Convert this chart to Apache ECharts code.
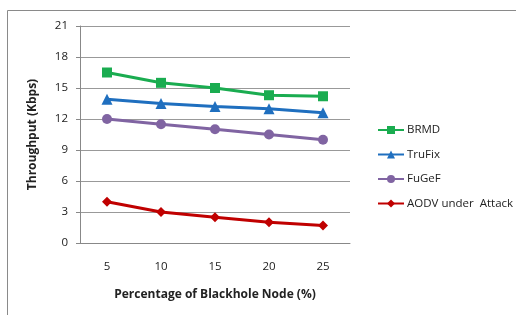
<!DOCTYPE html>
<html><head><meta charset="utf-8">
<script src="https://cdn.jsdelivr.net/npm/echarts@6/dist/echarts.min.js"></script>
<style>html,body{margin:0;padding:0;background:#fff}#c{width:516px;height:315px}</style>
</head><body><div id="c"></div>
<script>
const categories = ['5','10','15','20','25'];
const brmd = [16.5, 15.5, 15.0, 14.3, 14.2];
const trufix = [13.9, 13.5, 13.2, 13.0, 12.6];
const fugef = [12.0, 11.5, 11.0, 10.5, 10.0];
const aodv = [4.0, 3.0, 2.5, 2.0, 1.7];
const seriesNames = ['BRMD','TruFix','FuGeF','AODV under  Attack'];

const font = 'Open Sans';
const chart = echarts.init(document.getElementById('c'), null, {renderer:'canvas'});
function s(name, data, color, symbol, size){
  return {name, type:'line', data, symbol, symbolSize:size, showSymbol:true,
    lineStyle:{color, width:3}, itemStyle:{color}, animation:false};
}
chart.setOption({
  animation:false,
  graphic:[{type:'rect', shape:{x:7.5,y:10.5,width:520,height:320}, style:{fill:'none', stroke:'#8a8a8a', lineWidth:1}, silent:true}],
  grid:{left:80, top:26, width:270, height:217},
  legend:{orient:'vertical', left:372, top:119, itemGap:12.5, itemWidth:26, itemHeight:10,
    textStyle:{fontFamily:font, fontSize:11.5, color:'#222', padding:[0,0,0,-2]},
    data:seriesNames},
  xAxis:{type:'category', data:categories, boundaryGap:true,
    axisLine:{lineStyle:{color:'#888'}}, axisTick:{show:false},
    axisLabel:{fontFamily:font, fontSize:11.5, color:'#222', margin:18},
    name:'Percentage of Blackhole Node (%)', nameLocation:'middle', nameGap:46,
    nameTextStyle:{fontFamily:font, fontSize:12, fontWeight:'bold', color:'#222'}},
  yAxis:{type:'value', min:0, max:21, interval:3,
    axisLine:{show:true, lineStyle:{color:'#888'}}, axisTick:{show:true, length:4, lineStyle:{color:'#888'}},
    splitLine:{lineStyle:{color:'#999'}},
    axisLabel:{fontFamily:font, fontSize:11.5, color:'#222', margin:12},
    name:'Throughput (Kbps)', nameLocation:'middle', nameGap:41, nameRotate:90,
    nameTextStyle:{fontFamily:font, fontSize:12, fontWeight:'bold', color:'#222'}},
  series:[
    s(seriesNames[0], brmd, '#1aac50', 'rect', 10),
    s(seriesNames[1], trufix, '#1f6fbf', 'triangle', 11),
    s(seriesNames[2], fugef, '#8064a2', 'circle', 10),
    s(seriesNames[3], aodv, '#c00000', 'diamond', 10)
  ]
});
</script></body></html>
